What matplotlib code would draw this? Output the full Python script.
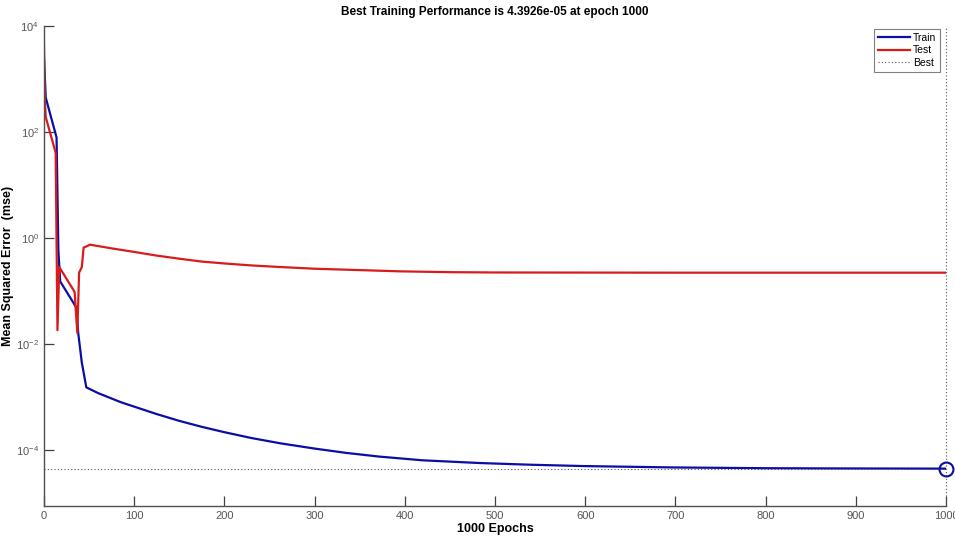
#!/usr/bin/env python3
"""
plot.py - training performance (mse vs epochs), MATLAB nntool style
"""

import matplotlib
matplotlib.use('Agg')
import matplotlib.pyplot as plt

plt.rcParams['font.family'] = ['Liberation Sans', 'DejaVu Sans']
plt.rcParams['axes.unicode_minus'] = False
plt.rcParams['mathtext.fontset'] = 'custom'
plt.rcParams['mathtext.rm'] = 'Liberation Sans'

# Train curve (epoch, mse)
train_epochs = [0, 2, 14, 16, 18, 36, 38, 42, 47, 60, 70, 85, 100, 125, 150,
                175, 200, 230, 262, 300, 335, 372, 420, 483, 540, 600, 700,
                800, 900, 1000]
train_mse = [2.6e3, 4.4e2, 78, 0.59, 0.15, 0.048, 0.016, 4.4e-3, 1.5e-3,
             1.17e-3, 1.0e-3, 7.9e-4, 6.5e-4, 4.7e-4, 3.5e-4, 2.7e-4, 2.14e-4,
             1.66e-4, 1.32e-4, 1.05e-4, 8.7e-5, 7.4e-5, 6.3e-5, 5.6e-5,
             5.2e-5, 4.9e-5, 4.62e-5, 4.47e-5, 4.42e-5, 4.3926e-5]

# Test curve
test_epochs = [0, 1, 2, 13, 15, 17, 34, 37, 39, 42, 44, 49, 51, 75, 100, 125,
               151, 175, 200, 230, 262, 300, 350, 395, 450, 500, 700, 1000]
test_mse = [5e3, 4e2, 190, 40, 0.018, 0.28, 0.095, 0.016, 0.22, 0.28, 0.65,
            0.71, 0.74, 0.63, 0.54, 0.46, 0.40, 0.355, 0.327, 0.30, 0.28, 0.26,
            0.245, 0.232, 0.224, 0.221, 0.219, 0.219]

best_epoch = 1000
best_perf = 4.3926e-05

yticks = [1e-4, 1e-2, 1e0, 1e2, 1e4]
ytick_labels = ['$10^{-4}$', '$10^{-2}$', '$10^{0}$', '$10^{2}$', '$10^{4}$']
xticks = list(range(0, 1001, 100))

fig = plt.figure(figsize=(9.55, 5.37), dpi=100)
ax = fig.add_axes([0.046, 0.058, 0.9445, 0.894])

ax.semilogy(train_epochs, train_mse, color='#0c0ca6', lw=1.6, label='Train')
ax.semilogy(test_epochs, test_mse, color='#d81b1b', lw=1.6, label='Test')
ax.axhline(best_perf, color='#555555', lw=0.8, ls=(0, (1, 2)), label='Best')
ax.axvline(best_epoch, color='#555555', lw=0.8, ls=(0, (1, 2)), clip_on=False)
ax.plot([best_epoch], [best_perf], 'o', ms=10, mfc='none', mec='#0c0ca6',
        mew=1.5, clip_on=False)

ax.set_xlim(0, 1000)
ax.set_ylim(10 ** -5.06, 1e4)
ax.set_xticks(xticks)
ax.set_yticks(yticks)
ax.set_yticklabels(ytick_labels)
ax.minorticks_off()
ax.tick_params(direction='in', length=7, width=0.9, colors='#404040',
               labelcolor='#555555', labelsize=8)

for side in ['top', 'right']:
    ax.spines[side].set_visible(False)
for side in ['left', 'bottom']:
    ax.spines[side].set_color('#505050')
    ax.spines[side].set_linewidth(1.0)

ax.set_title('Best Training Performance is 4.3926e-05 at epoch 1000',
             fontsize=8.5, fontweight='bold', pad=8)
ax.set_xlabel('1000 Epochs', fontsize=9, fontweight='bold', labelpad=2)
ax.set_ylabel('Mean Squared Error  (mse)', fontsize=9, fontweight='bold')
ax.yaxis.set_label_coords(-0.033, 0.5)

leg = ax.legend(loc='upper right', bbox_to_anchor=(0.9995, 1.005), fontsize=7.5,
                fancybox=False, framealpha=1, edgecolor='#808080',
                handlelength=3.0, borderpad=0.4, labelspacing=0.25,
                handletextpad=0.3)
leg.get_frame().set_linewidth(0.8)

fig.savefig('out.png', dpi=100)
